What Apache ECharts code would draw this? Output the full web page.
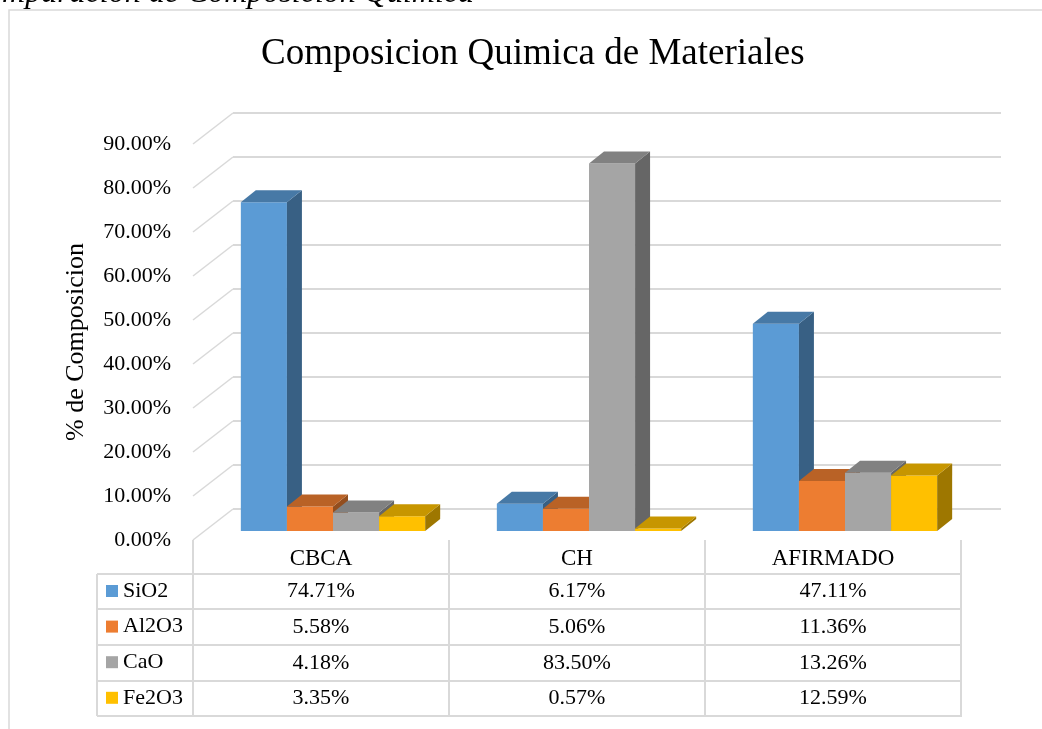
<!DOCTYPE html>
<html>
<head>
<meta charset="utf-8">
<script src="https://cdn.jsdelivr.net/npm/echarts@6/dist/echarts.min.js"></script>
<style>
  html, body { margin: 0; padding: 0; background: #fff; }
  #chart { width: 1042px; height: 729px; }
</style>
</head>
<body>
<div id="chart"></div>
<script>
var categories = ['CBCA', 'CH', 'AFIRMADO'];
var seriesNames = ['SiO2', 'Al2O3', 'CaO', 'Fe2O3'];
var sio2 = [74.71, 6.17, 47.11];
var al2o3 = [5.58, 5.06, 11.36];
var cao = [4.18, 83.50, 13.26];
var fe2o3 = [3.35, 0.57, 12.59];
var yTicks = [0, 10, 20, 30, 40, 50, 60, 70, 80, 90];

var values = [sio2, al2o3, cao, fe2o3];
var colors = ['#5b9bd5', '#ed7d31', '#a5a5a5', '#ffc000'];
var fontFam = '"Liberation Serif", "Times New Roman", serif';
var gridColor = '#d9d9d9';

// 3d offsets (front plane -> back wall, bar depth)
var backDx = 40, backDy = 31;
var barDx = 15, barDy = 12;

function shade(hex, f) {
  var n = parseInt(hex.slice(1), 16);
  var r = Math.round(((n >> 16) & 255) * f);
  var g = Math.round(((n >> 8) & 255) * f);
  var b = Math.round((n & 255) * f);
  return 'rgb(' + r + ',' + g + ',' + b + ')';
}

var chart = echarts.init(document.getElementById('chart'), null, {renderer: 'canvas'});

function makeBox(k) {
  return function (params, api) {
    var cat = api.value(0), v = api.value(1);
    var base = api.coord([cat, 0]);
    var top = api.coord([cat, v]);
    var band = api.size([1, 0])[0];
    var w = band * 0.18;
    var x0 = base[0] + (k - 2) * w;
    var x1 = x0 + w;
    var y0 = base[1], y1 = top[1];
    var c = colors[k];
    return {
      type: 'group',
      children: [
        {type: 'rect', shape: {x: x0, y: y1, width: w, height: y0 - y1}, style: {fill: c}},
        {type: 'polygon', shape: {points: [[x1, y0], [x1 + barDx, y0 - barDy], [x1 + barDx, y1 - barDy], [x1, y1]]}, style: {fill: shade(c, 0.62)}},
        {type: 'polygon', shape: {points: [[x0, y1], [x0 + barDx, y1 - barDy], [x1 + barDx, y1 - barDy], [x1, y1]]}, style: {fill: shade(c, 0.78)}}
      ]
    };
  };
}

var series = [];
// left side diagonals of the 3d box, drawn on back wall grid
series.push({
  type: 'custom',
  xAxisIndex: 0, yAxisIndex: 0,
  silent: true,
  z: 1,
  data: yTicks.map(function (t) { return [0, t]; }),
  renderItem: function (params, api) {
    var p = api.coord([0, api.value(1)]);
    return {type: 'line', shape: {x1: p[0], y1: p[1], x2: p[0] - backDx, y2: p[1] + backDy},
      style: {stroke: gridColor, lineWidth: 1.5}};
  }
});
seriesNames.forEach(function (name, k) {
  series.push({
    type: 'custom',
    name: name,
    xAxisIndex: 1, yAxisIndex: 1,
    z: 3,
    itemStyle: {color: colors[k]},
    data: values[k].map(function (v, i) { return [i, v]; }),
    renderItem: makeBox(k)
  });
});

var frontLeft = 193, frontTop = 144, plotW = 768, plotH = 396;

var option = {
  backgroundColor: '#fff',
  animation: false,
  title: {
    text: 'Composicion Quimica de Materiales',
    left: 256, top: 31,
    textStyle: {fontFamily: fontFam, fontSize: 37, fontWeight: 'normal', color: '#000'}
  },
  legend: {
    orient: 'vertical',
    left: 106, top: 580, padding: 0,
    itemWidth: 12, itemHeight: 12, itemGap: 13.6,
    icon: 'rect',
    data: seriesNames,
    textStyle: {fontFamily: fontFam, fontSize: 22, color: '#000'}
  },
  grid: [
    // back wall
    {left: frontLeft + backDx, top: frontTop - backDy, width: plotW, height: plotH},
    // bar plane
    {left: frontLeft + 12, top: frontTop - 9, width: plotW, height: plotH},
    // front plane (labels + table columns)
    {left: frontLeft, top: frontTop, width: plotW, height: plotH}
  ],
  xAxis: [
    {gridIndex: 0, type: 'value', min: 0, max: 1, show: false},
    {gridIndex: 1, type: 'category', data: categories, show: false},
    {
      gridIndex: 2, type: 'category', data: categories,
      axisLine: {show: false},
      axisTick: {show: true, length: 177, interval: 0, lineStyle: {color: gridColor, width: 2}},
      axisLabel: {margin: 7, interval: 0, fontFamily: fontFam, fontSize: 23, color: '#000'}
    }
  ],
  yAxis: [
    {
      gridIndex: 0, type: 'value', min: 0, max: 90, interval: 10,
      axisLine: {show: false}, axisTick: {show: false}, axisLabel: {show: false},
      splitLine: {lineStyle: {color: gridColor, width: 2}}
    },
    {gridIndex: 1, type: 'value', min: 0, max: 90, show: false},
    {
      gridIndex: 2, type: 'value', min: 0, max: 90, interval: 10,
      axisLine: {show: false}, axisTick: {show: false}, splitLine: {show: false},
      axisLabel: {
        margin: 22, fontFamily: fontFam, fontSize: 22, color: '#000',
        formatter: function (v) { return v.toFixed(2) + '%'; }
      },
      name: '% de Composicion',
      nameLocation: 'middle', nameGap: 104, nameRotate: 90,
      nameTextStyle: {fontFamily: fontFam, fontSize: 26, color: '#000'}
    }
  ],
  series: series
};
chart.setOption(option);

// data table below the plot
var rowLines = [574, 609, 645, 681, 716];
var tableLeft = 97, tableRight = frontLeft + plotW;
var graphic = [
  {type: 'rect', shape: {x: 9, y: 10, width: 1100, height: 800}, style: {fill: null, stroke: gridColor, lineWidth: 1.5}, z: -1},
  {type: 'text', x: 474, y: -6, style: {text: 'Comparación de Composición Química', align: 'right', verticalAlign: 'middle',
    font: 'italic 32px ' + fontFam, fill: '#000'}},
  {type: 'line', shape: {x1: tableLeft, y1: rowLines[0], x2: tableLeft, y2: rowLines[rowLines.length - 1]}, style: {stroke: gridColor, lineWidth: 2}}
];
rowLines.forEach(function (y) {
  graphic.push({type: 'line', shape: {x1: tableLeft, y1: y, x2: tableRight, y2: y}, style: {stroke: gridColor, lineWidth: 2}});
});
values.forEach(function (arr, k) {
  var yc = (rowLines[k] + rowLines[k + 1]) / 2;
  arr.forEach(function (v, i) {
    var xc = chart.convertToPixel({xAxisIndex: 2}, i);
    graphic.push({type: 'text', x: xc, y: yc, style: {text: v.toFixed(2) + '%', align: 'center', verticalAlign: 'middle',
      font: '22px ' + fontFam, fill: '#000'}});
  });
});
chart.setOption({graphic: graphic});
</script>
</body>
</html>
